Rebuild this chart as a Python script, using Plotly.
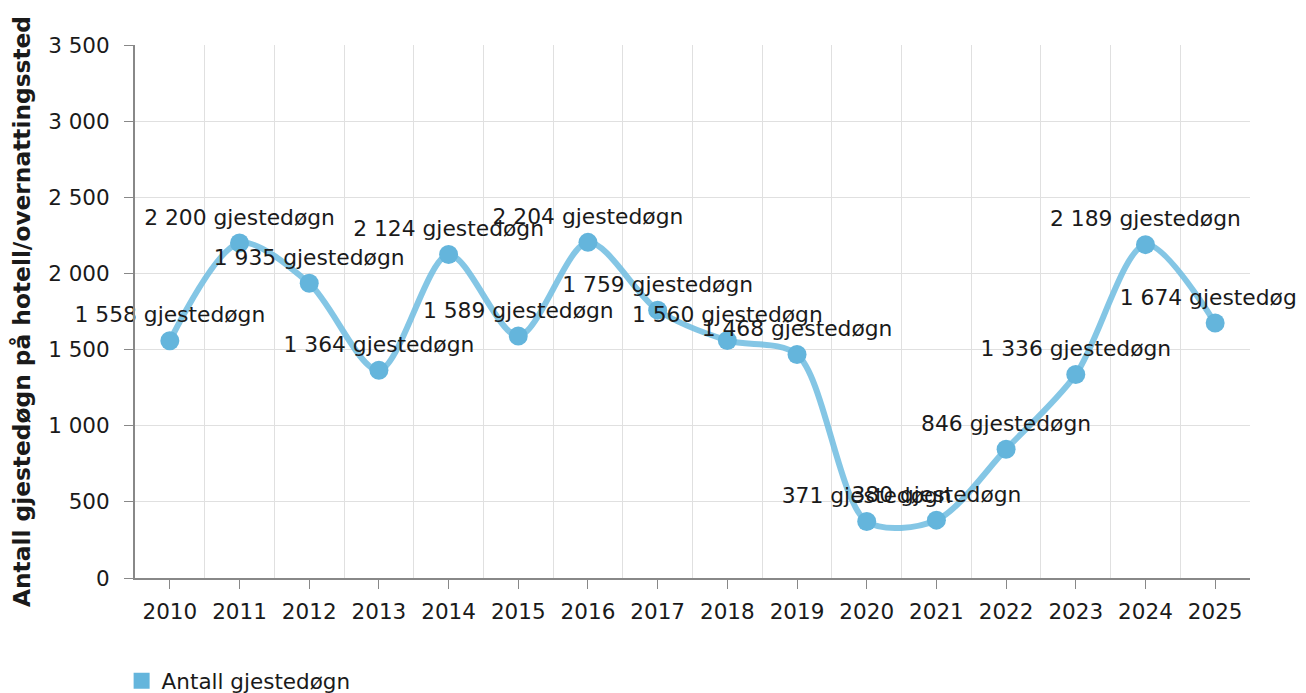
import plotly.graph_objects as go

years = ["2010", "2011", "2012", "2013", "2014", "2015", "2016", "2017",
         "2018", "2019", "2020", "2021", "2022", "2023", "2024", "2025"]
values = [1558, 2200, 1935, 1364, 2124, 1589, 2204, 1759,
          1560, 1468, 371, 380, 846, 1336, 2189, 1674]
unit = "gjestedøgn"
series_name = "Antall gjestedøgn"
y_title = "Antall gjestedøgn på hotell/overnattingssted"
y_ticks = [0, 500, 1000, 1500, 2000, 2500, 3000, 3500]


def fmt(v):
    return f"{v:,}".replace(",", " ")


xs = list(range(len(years)))
labels = [f"{fmt(v)} {unit}" for v in values]

FONT = "DejaVu Sans"
TXT = "#1a1a1a"
fig = go.Figure()
fig.add_trace(go.Scatter(
    x=xs, y=values, mode="lines+markers+text",
    line=dict(shape="spline", smoothing=0.85, color="rgba(110,188,224,0.85)", width=6),
    marker=dict(size=19, color="#64b5dc"),
    text=labels, textposition="top center",
    textfont=dict(family=FONT, size=21.8, color=TXT),
    cliponaxis=False, showlegend=False, hoverinfo="skip",
))
fig.add_trace(go.Scatter(
    x=[None], y=[None], mode="markers", name=series_name,
    marker=dict(symbol="square", size=30, color="#64b5dc"),
    showlegend=True,
))

fig.update_layout(
    width=1298, height=685,
    margin=dict(l=127, r=56, t=37, b=115, autoexpand=False),
    paper_bgcolor="white", plot_bgcolor="white",
    separators=", ",
    font=dict(family=FONT, size=21.5, color=TXT),
    legend=dict(orientation="h", x=-0.012, xanchor="left", y=-0.193, yanchor="middle",
                font=dict(family=FONT, size=21.5, color=TXT), itemsizing="trace"),
    xaxis=dict(
        range=[-0.5, len(years) - 0.5], automargin=False,
        tickmode="array", tickvals=xs, ticktext=years,
        showgrid=False, zeroline=False,
        ticks="outside", ticklen=9, tickcolor="#888", ticklabelstandoff=4,
        tickfont=dict(family=FONT, size=21.5, color=TXT),
        showline=True, linecolor="#888", linewidth=2,
        minor=dict(tickmode="array", tickvals=[i + 0.5 for i in xs[:-1]],
                   showgrid=True, gridcolor="#e0e0e0", gridwidth=1, ticks=""),
    ),
    yaxis=dict(
        range=[0, 3500], tickmode="array", tickvals=y_ticks, automargin=False,
        tickformat=",d",
        showgrid=True, gridcolor="#e0e0e0", gridwidth=1, zeroline=False,
        ticks="outside", ticklen=9, tickcolor="#888", ticklabelstandoff=10,
        tickfont=dict(family=FONT, size=21.5, color=TXT),
        showline=True, linecolor="#888", linewidth=2,
        title=dict(text=f"<b>{y_title}</b>", standoff=11,
                   font=dict(family=FONT, size=23.3, color=TXT)),
    ),
)

fig.write_html("out.html")
